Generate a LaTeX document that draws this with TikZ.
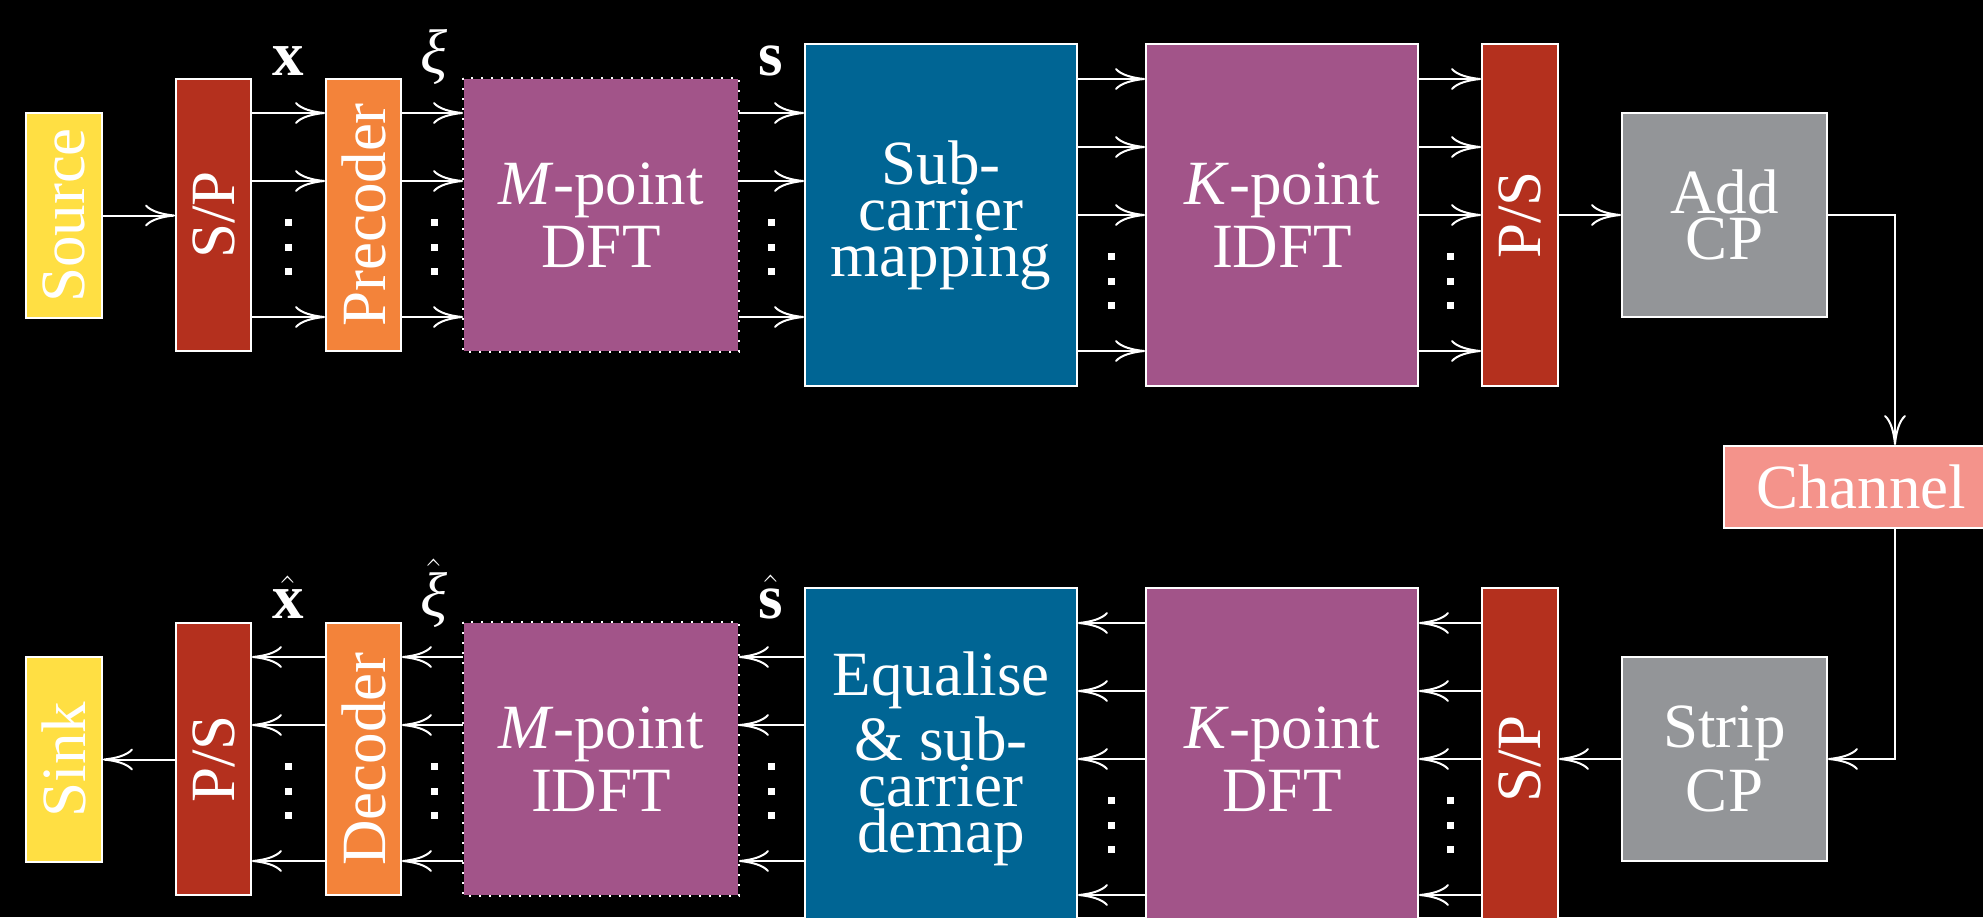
\documentclass[tikz,border=0pt]{standalone}
\usepackage{fontspec}
\setmainfont{Liberation Serif}
\usepackage{graphicx}
\usetikzlibrary{arrows.meta,calc}
\definecolor{cyel}{HTML}{FFDF43}
\definecolor{cred}{HTML}{B4301E}
\definecolor{corg}{HTML}{F3833A}
\definecolor{cpur}{HTML}{A25489}
\definecolor{cblu}{HTML}{006594}
\definecolor{cgry}{HTML}{939598}
\definecolor{csal}{HTML}{F4938B}
\newcommand\mainfnt{\fontsize{31.5}{23}\selectfont\lineskip=4pt\lineskiplimit=0pt}
\tikzset{
  blk/.style={draw=white, line width=1pt, inner sep=0pt, text=white, align=center, font=\mainfnt},
  narrowblk/.style={blk, minimum width=37.5pt, minimum height=136pt},
  tallnarrow/.style={blk, minimum width=38pt, minimum height=171pt},
  bigblk/.style={blk, minimum width=136pt, minimum height=171pt},
  dftblk/.style={blk, draw=none, fill=cpur, minimum width=137pt, minimum height=136pt},
  dotborder/.style={draw=white, line width=1pt, dash pattern=on 1pt off 4pt},
  endblk/.style={blk, fill=cyel, minimum width=38pt, minimum height=102.5pt},
  cpblk/.style={blk, fill=cgry, minimum width=102.5pt, minimum height=102pt},
  arr/.style={draw=white, line width=1pt, -{Computer Modern Rightarrow[length=15pt,width=11pt]}},
  lbl/.style={text=white, anchor=base, inner sep=0pt, font=\mainfnt},
  dot/.style={fill=white}
}
\begin{document}
\begin{tikzpicture}[x=0.5pt,y=-0.5pt]
\clip (0,0) rectangle (1983,917);
\fill[black] (0,0) rectangle (1983,917);
% ---------- upper row ----------
\node[endblk] (src) at (64,215.5) {\rotatebox{90}{Source}};
\node[narrowblk, fill=cred] (sp1) at (213.5,215) {\rotatebox{90}{S/P}};
\node[narrowblk, fill=corg] (pre) at (363.5,215) {\rotatebox{90}{Precoder}};
\node[dftblk] (mdft) at (601,215) {\textit{M}-point\\DFT};
\draw[dotborder] (mdft.north west) rectangle (mdft.south east);
\node[bigblk, fill=cblu] (sub) at (941,215) {Sub-\\carrier\\mapping};
\node[bigblk, fill=cpur] (kidft) at (1282,215) {\textit{K}-point\\IDFT};
\node[tallnarrow, fill=cred] (ps1) at (1520,215) {\rotatebox{90}{P/S}};
\node[cpblk] (add) at (1724.5,215) {Add\\CP};
\node[blk, fill=csal, minimum width=137pt, minimum height=41pt] (chan) at (1861,487) {Channel};
% ---------- lower row ----------
\node[cpblk] (strip) at (1724.5,759) {Strip\\CP};
\node[tallnarrow, fill=cred] (sp2) at (1520,759) {\rotatebox{90}{S/P}};
\node[bigblk, fill=cpur] (kdft) at (1282,759) {\textit{K}-point\\DFT};
\node[bigblk, fill=cblu] (eq) at (941,759) {Equalise\\\& sub-\\carrier\\demap};
\node[dftblk] (midft) at (601,759) {\textit{M}-point\\IDFT};
\draw[dotborder] (midft.north west) rectangle (midft.south east);
\node[narrowblk, fill=corg] (dec) at (363.5,759) {\rotatebox{90}{Decoder}};
\node[narrowblk, fill=cred] (ps2) at (213.5,759) {\rotatebox{90}{P/S}};
\node[endblk] (snk) at (64,759.5) {\rotatebox{90}{Sink}};
% ---------- labels ----------
\node[lbl] (lx) at (288,75) {$\mathbf{x}$};
\node[lbl] (lxi) at (434,73) {\itshape ξ};
\node[lbl] (ls) at (771,75) {$\mathbf{s}$};
\node[lbl] (lxh) at (288,618) {$\hat{\mathbf{x}}$};
\node[lbl] (lxih) at (434,616) {$\hat{\hbox{\itshape ξ}}$};
\node[lbl] (lsh) at (771,618) {$\hat{\mathbf{s}}$};
% ---------- connectors upper ----------
\coordinate (cx) at (1895,0);
\draw[arr] (src.east) -- (sp1.west |- src.east);
\foreach \y in {113,181,317} {
  \draw[arr] (sp1.east |- 0,\y) -- (pre.west |- 0,\y);
  \draw[arr] (pre.east |- 0,\y) -- (mdft.west |- 0,\y);
  \draw[arr] (mdft.east |- 0,\y) -- (sub.west |- 0,\y);
}
\foreach \y in {79,147,215,351} {
  \draw[arr] (sub.east |- 0,\y) -- (kidft.west |- 0,\y);
  \draw[arr] (kidft.east |- 0,\y) -- (ps1.west |- 0,\y);
}
\draw[arr] (ps1.east) -- (add.west);
\draw[arr] (add.east) -| (chan.north -| cx);
\draw[arr] (chan.south -| cx) |- (strip.east);
% ---------- connectors lower ----------
\draw[arr] (strip.west) -- (sp2.east);
\foreach \y in {623,691,759,895} {
  \draw[arr] (sp2.west |- 0,\y) -- (kdft.east |- 0,\y);
  \draw[arr] (kdft.west |- 0,\y) -- (eq.east |- 0,\y);
}
\foreach \y in {657,725,861} {
  \draw[arr] (eq.west |- 0,\y) -- (midft.east |- 0,\y);
  \draw[arr] (midft.west |- 0,\y) -- (dec.east |- 0,\y);
  \draw[arr] (dec.west |- 0,\y) -- (ps2.east |- 0,\y);
}
\draw[arr] (ps2.west |- snk.east) -- (snk.east);
% ---------- vertical dots ----------
\foreach \x in {288,434,771} {
  \foreach \y in {222,247,271,766,791,815} {
    \fill[dot] (\x-3.5,\y-3.5) rectangle (\x+3.5,\y+3.5);
  }
}
\foreach \x in {1111,1450} {
  \foreach \y in {256,281,305,800,825,849} {
    \fill[dot] (\x-3.5,\y-3.5) rectangle (\x+3.5,\y+3.5);
  }
}
\end{tikzpicture}
\end{document}
